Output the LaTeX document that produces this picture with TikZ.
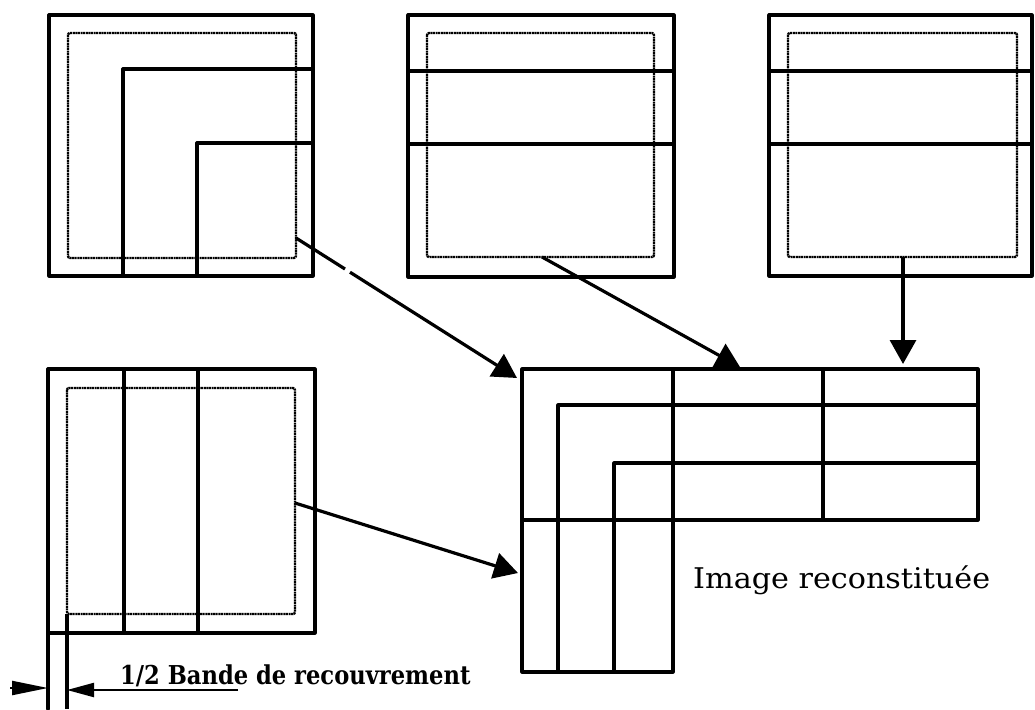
\documentclass[tikz,border=0pt]{standalone}
\usepackage{fontspec}
\usepackage{graphicx}
\setmainfont{DejaVu Serif}
\usetikzlibrary{arrows.meta}
\begin{document}
\begin{tikzpicture}[x=1pt,y=-1pt,
  frame/.style={line width=3.2pt, line join=round, line cap=round},
  band/.style={line width=2.4pt, black, dash pattern=on 2pt off 0.6pt, rounded corners=2pt},
  conn/.style={line width=3.2pt, -{Triangle[length=24pt,width=26pt]}},
  seg/.style={line width=3.2pt},
  dimtip/.style={line width=2.2pt, -{Triangle[length=#1,width=14pt]}},
  lbl/.style={inner sep=0pt, font=\fontsize{28.5}{33}\selectfont},
  dimlbl/.style={inner sep=0pt, font=\bfseries\fontsize{26}{31}\selectfont}]
\useasboundingbox (0,0) rectangle (1035,709);

% ---- Box A (top-left) ----
\draw[frame] (49,15) rectangle (313,276);
\draw[band] (68,33) rectangle (296,258);
\draw[frame] (123,276) -- (123,69) -- (313,69);
\draw[frame] (197,276) -- (197,143) -- (313,143);
\coordinate (a1s) at (296,238);

% ---- Box B (top-middle) ----
\draw[frame] (408,15) rectangle (674,277);
\draw[band] (427,33) rectangle (654,257);
\draw[frame] (408,71) -- (674,71);
\draw[frame] (408,144) -- (674,144);
\coordinate (a2s) at (542,257);

% ---- Box C (top-right) ----
\draw[frame] (769,15) rectangle (1032,276);
\draw[band] (788,33) rectangle (1017,257);
\draw[frame] (769,71) -- (1032,71);
\draw[frame] (769,144) -- (1032,144);
\coordinate (a3s) at (903,257);

% ---- Box D (bottom-left) ----
\draw[frame] (48,369) rectangle (315,633);
\draw[band] (67,388) rectangle (295,614);
\draw[frame] (124,369) -- (124,633);
\draw[frame] (198,369) -- (198,633);
\draw[frame] (48,633) -- (48,709);
\draw[seg] (67,614) -- (67,709);
\coordinate (a4s) at (295,503);

% ---- Reconstructed image ----
\draw[frame] (522,369) rectangle (978,520);
\draw[frame] (522,520) -- (522,672) -- (673,672) -- (673,369);
\draw[frame] (823,369) -- (823,520);
\draw[frame] (558,672) -- (558,405) -- (978,405);
\draw[frame] (614,672) -- (614,463) -- (978,463);

% ---- Arrows ----
\coordinate (a1g1) at (345,269);
\coordinate (a1g2) at (350,272.2);
\coordinate (a1e) at (517,378);
\coordinate (a2e) at (740,367);
\coordinate (a3e) at (903,364);
\coordinate (a4e) at (518,573);
\draw[seg] (a1s) -- (a1g1);
\draw[conn] (a1g2) -- (a1e);
\draw[conn] (a2s) -- (a2e);
\draw[conn] (a3s) -- (a3e);
\draw[conn] (a4s) -- (a4e);

% ---- Overlap band dimension ----
\coordinate (dl) at (10,688);
\coordinate (dlt) at (48,688);
\coordinate (drt) at (67,690);
\coordinate (dr) at (238,690);
\draw[dimtip=36pt] (dl) -- (dlt);
\draw[dimtip=27pt] (dr) -- (drt);
\node[dimlbl, anchor=base west] (dimtext) at (120,684) {\scalebox{0.87}[1]{1/2 Bande de recouvrement}};

\node[lbl, anchor=base west] (title) at (693,588) {\scalebox{1.06}[1]{Image reconstituée}};
\end{tikzpicture}
\end{document}
